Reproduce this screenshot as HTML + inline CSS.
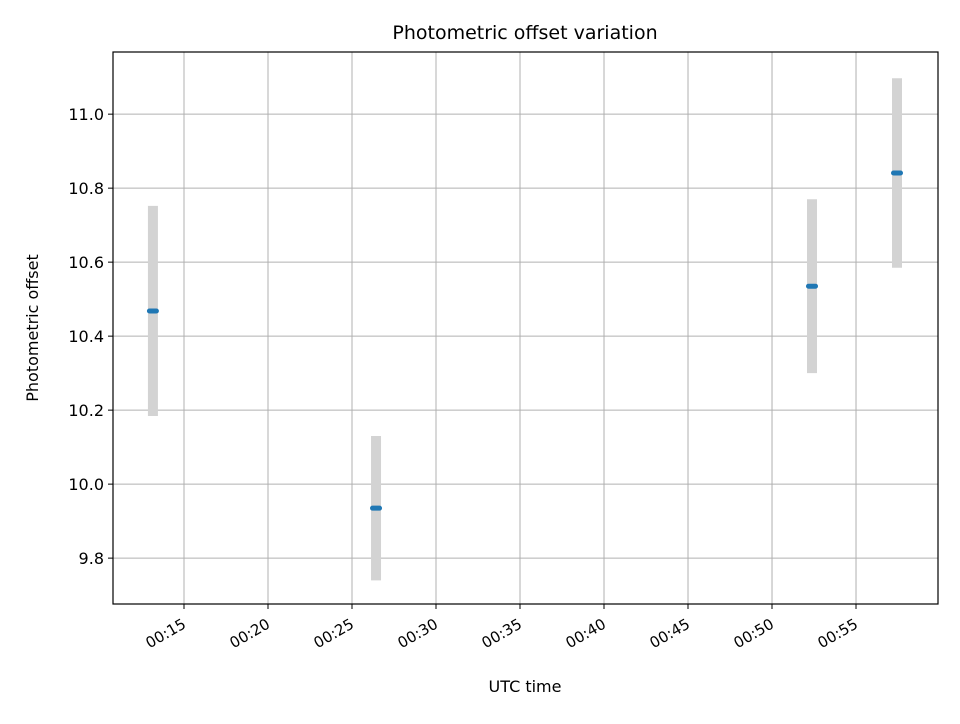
<!DOCTYPE html>
<html><head><meta charset="utf-8"><style>
body{margin:0;background:#fff;font-family:"DejaVu Sans","Liberation Sans",sans-serif}
</style></head><body>
<svg id="chart" width="960" height="720" xmlns="http://www.w3.org/2000/svg">
<text x="525" y="39" font-size="19" text-anchor="middle">Photometric offset variation</text>
<g id="grid"></g>
<g id="marks"></g>
<rect x="113" y="52" width="825" height="552" fill="none" stroke="#000" stroke-width="1.2"/>
<g id="axes"></g>
<text x="525" y="692" font-size="16" text-anchor="middle">UTC time</text>
<text transform="translate(38,328) rotate(-90)" font-size="16" text-anchor="middle">Photometric offset</text>
</svg>
<script>
const times = [13.15, 26.43, 52.38, 57.44]; // minutes after 00:00
const offsets = [10.468, 9.935, 10.535, 10.841];
const errors = [0.284, 0.195, 0.235, 0.256];
const xTicks = [15, 20, 25, 30, 35, 40, 45, 50, 55];
const yTicks = [9.8, 10.0, 10.2, 10.4, 10.6, 10.8, 11.0];
const X0=113,X1=938,Y0=52,Y1=604;
const xMin=10.774,xMax=59.88,yMin=9.676,yMax=11.168;
const sx=v=>X0+(v-xMin)/(xMax-xMin)*(X1-X0);
const sy=v=>Y1-(v-yMin)/(yMax-yMin)*(Y1-Y0);
const NS="http://www.w3.org/2000/svg";
function mk(t,a,p){const e=document.createElementNS(NS,t);for(const k in a)e.setAttribute(k,a[k]);p.appendChild(e);return e;}
const grid=document.getElementById('grid'),axes=document.getElementById('axes'),marks=document.getElementById('marks');
xTicks.forEach(t=>{
 const x=sx(t);
 const g=mk('line',{x1:x,x2:x,y1:Y0,y2:Y1,stroke:'#b0b0b0','stroke-width':1},grid);
 
 
 const tk=mk('line',{x1:x,x2:x,y1:Y1,y2:Y1+5,stroke:'#000'},axes);
 
 
 const ax=x+3, ay=Y1+23;
 const lb=mk('text',{x:ax,y:ay,'font-size':15,'text-anchor':'end',transform:`rotate(-30 ${ax} ${ay})`},axes);
 lb.textContent='00:'+String(t).padStart(2,'0');
 
 
});
yTicks.forEach(t=>{
 const y=sy(t);
 const g=mk('line',{x1:X0,x2:X1,y1:y,y2:y,stroke:'#b0b0b0','stroke-width':1},grid);
 
 
 const tk=mk('line',{x1:X0-5,x2:X0,y1:y,y2:y,stroke:'#000'},axes);
 
 
 const lb=mk('text',{x:X0-9,y:y+6,'font-size':16,'text-anchor':'end'},axes);
 lb.textContent=t.toFixed(1);
 
 
});
times.forEach((t,i)=>{
 const x=sx(t);
 const eb=mk('line',{x1:x,x2:x,y1:sy(offsets[i]+errors[i]),y2:sy(offsets[i]-errors[i]),stroke:'#d3d3d3','stroke-width':10},marks);
 
 
 const p=mk('rect',{x:x-6,y:sy(offsets[i])-2.5,width:12,height:5,rx:2.5,fill:'#1f77b4'},marks);
 
 
});
</script>
</body></html>
